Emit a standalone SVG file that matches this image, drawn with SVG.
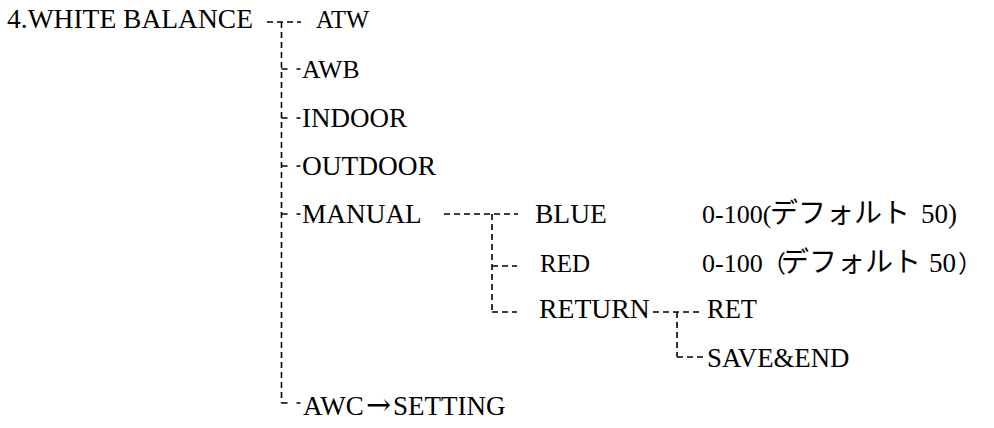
<svg xmlns="http://www.w3.org/2000/svg" width="994" height="428" viewBox="0 0 994 428">
<style>
.s{font-family:"Liberation Serif","Times New Roman",serif;fill:#000}
.j{font-family:"Noto Sans CJK JP",sans-serif;fill:#000}
.a{font-family:"DejaVu Serif",serif;fill:#000}
.d{fill:none;stroke:#000;stroke-width:1.6;stroke-dasharray:6 4}
.t{fill:none;stroke:#000;stroke-width:1.6;stroke-dasharray:6 9 4 20}
</style>
<rect width="994" height="428" fill="#fff"/>
<g id="connectors">
<path class="d" d="M267 22H301"/>
<path class="d" d="M281.5 22V403"/>
<path class="t" d="M281.5 69H301"/>
<path class="t" d="M281.5 118H301"/>
<path class="t" d="M281.5 166H301"/>
<path class="t" d="M281.5 214H301"/>
<path class="t" d="M281.5 403H301"/>
<path class="d" d="M444 214H518"/>
<path class="d" d="M492 214V312"/>
<path class="d" d="M492 266H517"/>
<path class="d" d="M492 312H517"/>
<path class="d" d="M653 312H703"/>
<path class="d" d="M677 312V357"/>
<path class="d" d="M677 357H703"/>
</g>
<g id="n-wb"><text class="s" x="7" y="28" font-size="27.5">4.WHITE BALANCE</text></g>
<g id="n-atw"><text class="s" x="316" y="28" font-size="24.5">ATW</text></g>
<g id="n-awb"><text class="s" x="302" y="78" font-size="25.5">AWB</text></g>
<g id="n-indoor"><text class="s" x="302" y="127" font-size="27">INDOOR</text></g>
<g id="n-outdoor"><text class="s" x="302" y="175" font-size="27.4">OUTDOOR</text></g>
<g id="n-manual"><text class="s" x="302" y="223" font-size="27.3">MANUAL</text></g>
<g id="n-blue"><text class="s" x="535" y="223" font-size="27.5">BLUE</text>
<text class="s" x="702" y="223" font-size="26">0-100(<tspan class="j" x="770" font-size="28">デフォルト</tspan><tspan class="s" x="921" font-size="27">50)</tspan></text></g>
<g id="n-red"><text class="s" x="540" y="272" font-size="25">RED</text>
<text class="s" x="702" y="272" font-size="26">0-100<tspan class="j" x="762" font-size="24">（</tspan><tspan class="j" x="781" font-size="28">デフォルト</tspan><tspan class="s" x="929" font-size="27">50</tspan><tspan class="j" x="958" font-size="24">）</tspan></text></g>
<g id="n-return"><text class="s" x="539" y="318" font-size="27.7">RETURN</text></g>
<g id="n-ret"><text class="s" x="707" y="318" font-size="26.5">RET</text></g>
<g id="n-save"><text class="s" x="707" y="367" font-size="26.8">SAVE&amp;END</text></g>
<g id="n-awc"><text class="s" x="303" y="415" font-size="27">AWC<tspan class="a" x="366" font-size="30">→</tspan><tspan class="s" x="393" font-size="27">SETTING</tspan></text></g>
</svg>
